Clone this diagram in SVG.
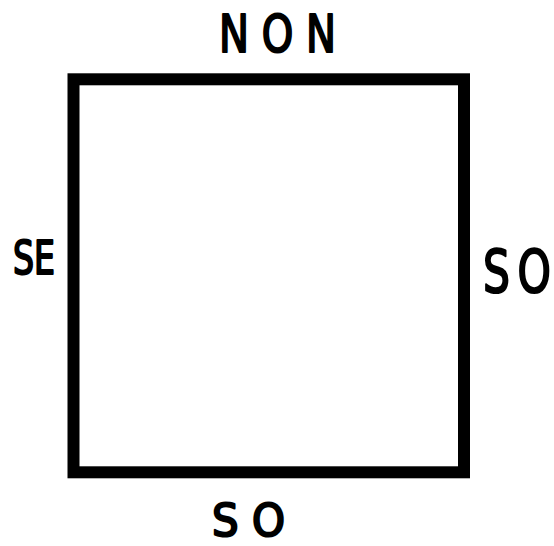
<svg xmlns="http://www.w3.org/2000/svg" width="554" height="546" viewBox="0 0 554 546">
<style>
.lbl{font-family:"DejaVu Sans","Liberation Sans",sans-serif;font-weight:normal;fill:#000;stroke:#000;stroke-width:2.2;stroke-linejoin:round}
.box{fill:#fff;stroke:#000;stroke-width:12}
</style>
<rect width="554" height="546" fill="#fff"/>
<g id="square">
<rect class="box" x="73.5" y="79.3" width="390.5" height="393"/>
</g>
<g id="connectors"></g>
<g id="label-top"><text class="lbl" x="219" y="52" font-size="52" textLength="117" lengthAdjust="spacingAndGlyphs">N O N</text></g>
<g id="label-left"><text class="lbl" x="13" y="274" font-size="47" textLength="42" lengthAdjust="spacingAndGlyphs">SE</text></g>
<g id="label-right"><text class="lbl" transform="translate(483,292) scale(0.72,1)" x="0 48" y="0" font-size="59">SO</text></g>
<g id="label-bottom"><text class="lbl" x="212" y="536" font-size="44" textLength="73" lengthAdjust="spacingAndGlyphs">S O</text></g>
</svg>
